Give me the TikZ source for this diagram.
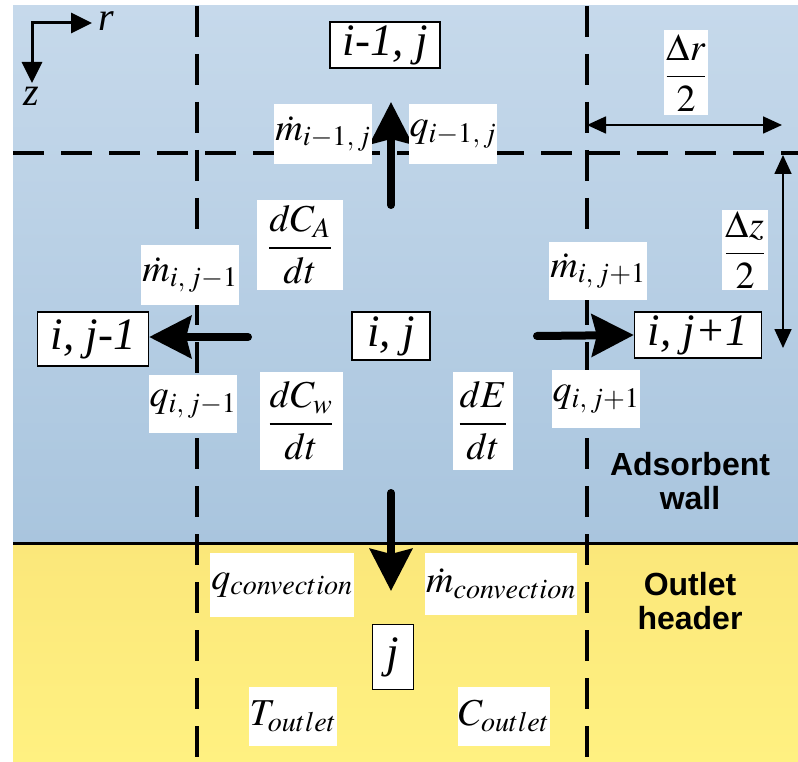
\documentclass[tikz,border=0pt]{standalone}
\usepackage{mathptmx}
\usepackage{fontspec}
\setmainfont{Liberation Serif}
\newfontfamily\sansb{Liberation Sans}
\usetikzlibrary{arrows.meta}
\definecolor{blueT}{HTML}{C6D9EB}
\definecolor{blueB}{HTML}{A9C5DE}
\definecolor{yelT}{HTML}{FBE77A}
\definecolor{yelB}{HTML}{FFF181}
\begin{document}
\begin{tikzpicture}[x=1pt,y=-1pt,
  lbl/.style 2 args={fill=white, inner sep=1pt, minimum width=#1, minimum height=#2, font=\fontsize{38}{42}\selectfont},
  cell/.style 2 args={draw=black, line width=1.3pt, fill=white, inner sep=1pt, minimum width=#1, minimum height=#2, font=\fontsize{45}{48}\selectfont\itshape},
  dsh/.style={line width=3.2pt, dash pattern=on 31pt off 17pt},
  fat/.style={line width=8pt, line cap=round, -{Stealth[length=42pt,width=42pt,inset=5pt]}},
  dimarrow/.style={line width=1.7pt, {Triangle[length=19pt,width=17pt]}-{Triangle[length=19pt,width=17pt]}},
  axlbl/.style={inner sep=0pt, font=\fontsize{40}{42}\selectfont\itshape},
  sidetxt/.style={font=\sansb\bfseries\fontsize{32}{34}\selectfont, align=center}]
\useasboundingbox (0,0) rectangle (798,762);
% backgrounds
\shade[top color=blueT, bottom color=blueB] (13,6) rectangle (798,543);
\shade[top color=yelT, bottom color=yelB] (13,543) rectangle (798,762);
% grid lines
\draw[dsh] (13,153) -- (798,153);
\draw[dsh] (197,6) -- (197,762);
\draw[dsh] (587,6) -- (587,762);
\draw[line width=3pt] (13,543) -- (798,543);
% axes
\coordinate (o) at (32,23);
\coordinate (rend) at (92,23);
\coordinate (zend) at (32,83);
\draw[line width=3pt, {Triangle[length=21pt,width=20pt]}-{Triangle[length=21pt,width=20pt]}] (rend) -- (o) -- (zend);
\node[axlbl, anchor=base] (rl) at (106,31) {r};
\node[axlbl, anchor=base] (zl) at (31,106) {z};
% cells
\node[cell={110pt}{46pt}] (up) at (385,45) {i-1, j};
\node[cell={78pt}{48pt}] (c) at (391,336) {i, j};
\node[cell={111pt}{54pt}] (l) at (93,339) {i, j-1};
\node[cell={127pt}{46pt}] (rgt) at (698,335) {i, j+1};
\node[cell={41pt}{65pt}] (hdr) at (393,657) {j};
% thick arrows
\coordinate (upS) at (391,205);
\coordinate (upE) at (391,102);
\draw[fat] (upS) -- (upE);
\coordinate (lS) at (248,337);
\draw[fat] (lS) -- (l.east |- lS);
\coordinate (rS) at (537,336);
\draw[fat] (rS) -- (rgt.west);
\coordinate (dS) at (391,493);
\coordinate (dE) at (391,591);
\draw[fat] (dS) -- (dE);
% labels
\node[lbl={86pt}{60pt}] (m1) at (323,134) {$\dot m_{i-1,\,j}$};
\node[lbl={77pt}{60pt}] (q1) at (453,134) {$q_{i-1,\,j}$};
\node[lbl={43pt}{85pt}] (dr) at (686,73) {$\displaystyle\frac{\Delta r}{2}$};
\node[lbl={46pt}{80pt}] (dz) at (745,250) {$\displaystyle\frac{\Delta z}{2}$};
\node[lbl={86pt}{90pt}] (dca) at (300,245) {$\displaystyle\frac{dC_A}{dt}$};
\node[lbl={84pt}{60pt}] (ml) at (190,275) {$\dot m_{i,\,j-1}$};
\node[lbl={85pt}{58pt}] (mr) at (598,271) {$\dot m_{i,\,j+1}$};
\node[lbl={77pt}{58pt}] (ql) at (193,404) {$q_{i,\,j-1}$};
\node[lbl={83pt}{98pt}] (dcw) at (301,421) {$\displaystyle\frac{dC_w}{dt}$};
\node[lbl={60pt}{98pt}] (de) at (483,421) {$\displaystyle\frac{dE}{dt}$};
\node[lbl={80pt}{58pt}] (qr) at (596,399) {$q_{i,\,j+1}$};
\node[lbl={140pt}{64pt}] (qc) at (282,585) {$q_{convection}$};
\node[lbl={146pt}{62pt}] (mc) at (501,584) {$\dot m_{convection}$};
\node[lbl={80pt}{59pt}] (to) at (293,716) {$T_{outlet}$};
\node[lbl={92pt}{59pt}] (co) at (504,716) {$C_{outlet}$};
% dimension arrows
\coordinate (drA) at (587,125);
\coordinate (drB) at (782,125);
\draw[dimarrow] (drA) -- (drB);
\coordinate (dzA) at (783,155);
\coordinate (dzB) at (783,348);
\draw[dimarrow] (dzA) -- (dzB);
% side texts
\node[sidetxt] (aw) at (690,481) {Adsorbent\\wall};
\node[sidetxt] (oh) at (690,601) {Outlet\\header};
\end{tikzpicture}
\end{document}
